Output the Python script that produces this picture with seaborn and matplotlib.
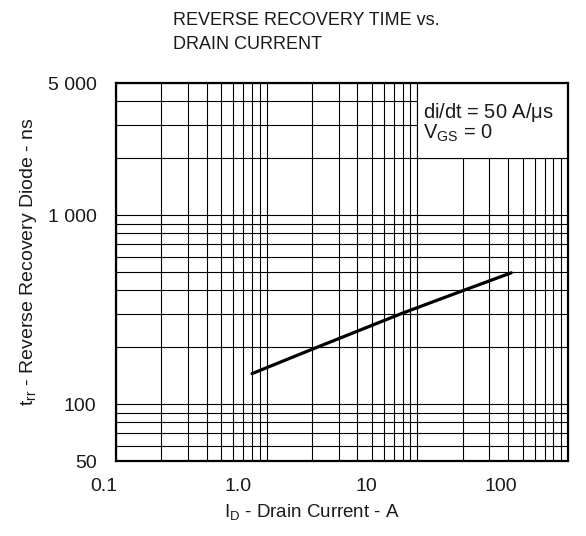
import matplotlib
matplotlib.use("Agg")
import matplotlib.pyplot as plt
import matplotlib.transforms as mtransforms
from matplotlib.patches import Rectangle
from matplotlib.ticker import FixedLocator, FixedFormatter, NullFormatter
import seaborn as sns
import pandas as pd

# ---- data ----
drain_current = [0.8, 2.0, 7.9, 20.5, 42.0]
recovery_time = [145, 195, 302, 401, 495]

x_major = [0.1, 1.0, 10, 100]
x_major_labels = ["0.1", "1.0", "10", "100"]
x_minor = [0.2, 0.3, 0.4, 0.5, 0.6, 0.7, 0.8, 0.9,
           2, 3, 4, 5, 6, 7, 8, 9,
           20, 30, 40, 50, 60, 70, 80, 90]
y_major = [50, 100, 1000, 5000]
y_major_labels = ["50", "100", "1 000", "5 000"]
y_minor = [60, 70, 80, 90, 200, 300, 400, 500, 600, 700, 800, 900,
           2000, 3000, 4000]

title_text = "REVERSE RECOVERY TIME vs.\nDRAIN CURRENT"
xlabel_text = r"I$_\mathregular{D}$ - Drain Current - A"
ylabel_text = r"t$_\mathregular{rr}$ - Reverse Recovery Diode - ns"
cond1 = r"di/dt = 50 A/$\mu$s"
cond2 = r"V$_\mathregular{GS}$ = 0"

df = pd.DataFrame({"I_D": drain_current, "t_rr": recovery_time})

sns.set_theme(style="white")
plt.rcParams["font.family"] = ["Liberation Sans", "DejaVu Sans"]
plt.rcParams["mathtext.fontset"] = "custom"
plt.rcParams["mathtext.rm"] = "Liberation Sans"
plt.rcParams["mathtext.it"] = "Liberation Sans:italic"
plt.rcParams["mathtext.default"] = "regular"

txt = "#1a1a1a"
fig = plt.figure(figsize=(5.86, 5.36), dpi=100)
ax = fig.add_axes([116/586, 1 - 461/536, (568-116)/586, (461-83)/536])

sns.lineplot(data=df, x="I_D", y="t_rr", ax=ax, color="black", lw=2.3, zorder=3)

ax.set_xscale("log")
ax.set_yscale("log")
ax.set_xlim(0.1, 100)
ax.set_ylim(50, 5000)

ax.xaxis.set_major_locator(FixedLocator(x_major))
ax.xaxis.set_major_formatter(FixedFormatter(x_major_labels))
ax.xaxis.set_minor_locator(FixedLocator(x_minor))
ax.xaxis.set_minor_formatter(NullFormatter())
ax.yaxis.set_major_locator(FixedLocator(y_major))
ax.yaxis.set_major_formatter(FixedFormatter(y_major_labels))
ax.yaxis.set_minor_locator(FixedLocator(y_minor))
ax.yaxis.set_minor_formatter(NullFormatter())

ax.set_axisbelow(True)
ax.grid(True, which="both", color="black", lw=0.8)
ax.tick_params(which="both", length=0, labelsize=14, labelcolor=txt)
ax.tick_params(axis="x", pad=12)
ax.tick_params(axis="y", pad=14)

for s in ax.spines.values():
    s.set_color("black")
    s.set_linewidth(1.6)

# condition box (upper right, no grid inside)
box = Rectangle((10, 2000), 90, 3000, facecolor="white", edgecolor="black",
                lw=0.8, zorder=1)
ax.add_patch(box)
ax.text(10.9, 3265, cond1, fontsize=14.5, color=txt, va="baseline", ha="left", zorder=4)
ax.text(10.9, 2529, cond2, fontsize=14.5, color=txt, va="baseline", ha="left", zorder=4)

# x tick labels shifted as in the reference
offsets = [-12, -29, -51, -67]
for lab, off in zip(ax.get_xticklabels(), offsets):
    lab.set_transform(lab.get_transform() +
                      mtransforms.ScaledTranslation(off/100, 0, fig.dpi_scale_trans))

ax.set_xlabel(xlabel_text, fontsize=13.5, color=txt)
ax.xaxis.set_label_coords((312-116)/452, (461-502)/378)
ax.set_ylabel(ylabel_text, fontsize=14, color=txt)
ax.yaxis.set_label_coords((39-116)/452, (461-262)/378)

fig.text(173/586, 1 - 12/536, title_text, fontsize=13, color=txt,
         ha="left", va="top", linespacing=1.55)

fig.savefig("out.png", dpi=100, facecolor="white")
